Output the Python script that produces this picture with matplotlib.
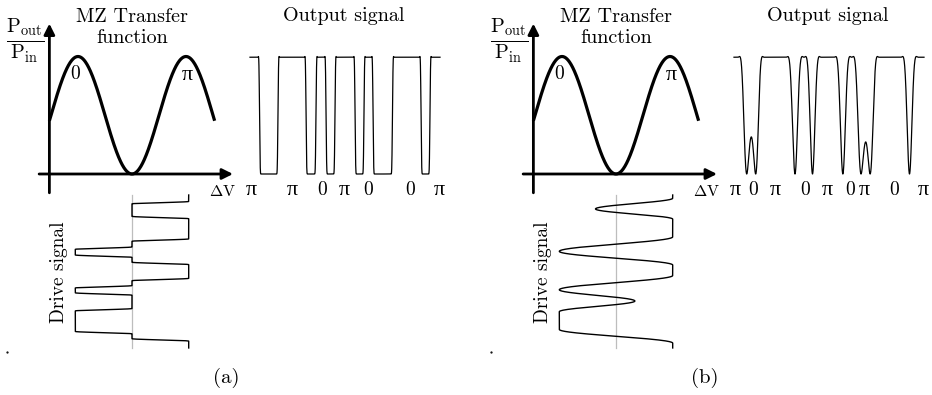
import numpy as np
import matplotlib.pyplot as plt

plt.rcParams['font.family'] = 'serif'
plt.rcParams['font.serif'] = ['cmr10']
plt.rcParams['mathtext.fontset'] = 'cm'
plt.rcParams['axes.formatter.use_mathtext'] = True

W, H = 932, 395  # output size in pixels

# drive voltage units: 0 -> "0" peak, 1 -> null, 2 -> "pi" peak
tf_v_start, tf_v_end = -0.53, 2.53
t_end = 190

# (a) three-level drive: level of each bit and the switching times
drive_a_levels = [2.05, 1.0, 2.05, 1.0, -0.05, 1.0, 2.05, 1.0, -0.05, 1.0, -0.05, 1.0, 2.05]
drive_a_edges = [9.5, 28, 56, 66, 76, 85, 105, 114, 123, 142.5, 171, 180]
out_a_labels = ['π', 'π', '0', 'π', '0', '0', 'π']
out_a_label_t = [1.7, 42, 72, 94, 118, 160, 189]

# (b) band-limited drive: turning points of the waveform
drive_b_t = [0, 4, 17.3, 30, 52, 70, 87, 100, 117.7, 131.7, 145, 167, 184, 190]
drive_b_v = [2.05, 2.05, 0.62, 2.05, 2.05, -0.05, 2.05, 2.05, -0.05, 1.35, -0.05, -0.05, 2.05, 2.05]
out_b_labels = ['π', '0', 'π', '0', 'π', '0', 'π', '0', 'π']
out_b_label_t = [1.7, 19, 41.7, 71, 93, 116, 130, 160, 189]


def transfer(v):
    return np.cos(np.pi * v / 2) ** 2


def step_drive(t, levels, edges, width=3.0):
    v = np.full_like(t, levels[0], dtype=float)
    for e, lo, hi in zip(edges, levels[:-1], levels[1:]):
        f = np.clip((t - e) / width + 0.5, 0, 1)
        v += (hi - lo) * (1 - np.cos(np.pi * f)) / 2
    return v


def knot_drive(t, kt, kv):
    kt, kv = np.asarray(kt, float), np.asarray(kv, float)
    i = np.clip(np.searchsorted(kt, t, side='right') - 1, 0, len(kt) - 2)
    f = (t - kt[i]) / (kt[i + 1] - kt[i])
    s = (1 - np.cos(np.pi * f)) / 2
    return kv[i] + (kv[i + 1] - kv[i]) * s


fig = plt.figure(figsize=(W / 100, H / 100), dpi=100)


def px_axes(xa, xb, ya, yb, xlim, ylim):
    # pixel column = xa + xb*x, pixel row = ya + yb*y
    cols = sorted([xa + xb * xlim[0], xa + xb * xlim[1]])
    rows = sorted([ya + yb * ylim[0], ya + yb * ylim[1]])
    ax = fig.add_axes([cols[0] / W, 1 - rows[1] / H,
                       (cols[1] - cols[0]) / W, (rows[1] - rows[0]) / H])
    ax.set_xlim(xlim)
    ax.set_ylim(ylim if yb < 0 else ylim[::-1])
    ax.set_axis_off()
    return ax


arrow = dict(arrowstyle='-|>', lw=2.0, color='k', mutation_scale=16,
             shrinkA=0, shrinkB=0)
pi_font = 'Liberation Serif'


def draw_panel(dx, t, v, labels, label_t, tag):
    # MZ transfer function
    tr = px_axes(78 + dx, 54, 174, -117.5, (-0.8, 3.0), (-0.3, 1.4))
    vv = np.linspace(tf_v_start, tf_v_end, 400)
    tr.plot(vv, transfer(vv), color='k', lw=2.3, solid_capstyle='butt', zorder=3)
    tr.annotate('', xy=(2.87, 0), xytext=(-0.72, 0), arrowprops=arrow)
    tr.annotate('', xy=(tf_v_start, 1.28), xytext=(tf_v_start, -0.16), arrowprops=arrow)
    tr.text(1.0, 1.294, 'MZ Transfer', ha='center', va='baseline', fontsize=14.5)
    tr.text(1.0, 1.115, 'function', ha='center', va='baseline', fontsize=14.5)
    tr.text(-0.05, 0.85, '0', ha='center', va='center', fontsize=14)
    tr.text(2.03, 0.84, 'π', ha='center', va='center', fontsize=16, family=pi_font)
    tr.text(2.67, -0.19, r'$\Delta\mathrm{V}$', ha='center', va='baseline', fontsize=11.5)
    tr.text(-0.98, 1.13, r'$\frac{\mathrm{P}_{\mathrm{out}}}{\mathrm{P}_{\mathrm{in}}}$',
            ha='center', va='center', fontsize=21)

    # output signal
    out = px_axes(250 + dx, 1, 174, -117.5, (-5, t_end + 5), (-0.3, 1.4))
    out.plot(t, transfer(v), color='k', lw=0.9)
    out.text(94, 1.30, 'Output signal', ha='center', va='baseline', fontsize=14.5)
    for lab, lt in zip(labels, label_t):
        if lab == 'π':
            out.text(lt, -0.18, lab, ha='center', va='baseline', fontsize=16, family=pi_font)
        else:
            out.text(lt, -0.18, lab, ha='center', va='baseline', fontsize=14)

    # drive signal, time running downwards
    drv = px_axes(78 + dx, 54, 195, 0.805, (-0.8, 3.0), (-5, t_end + 5))
    drv.plot([1, 1], [0, t_end], color='#bdbdbd', lw=0.9, zorder=0)
    drv.plot(v, t, color='k', lw=1.0)
    drv.text(-0.35, 95.6, 'Drive signal', rotation=90, ha='center', va='center', fontsize=14)
    drv.plot([-1.31], [195], 'k.', ms=1.2, clip_on=False)

    fig.text((226 + dx * 0.99) / W, 1 - 378 / H, tag, ha='center', va='center', fontsize=15)


t = np.linspace(0, t_end, 2000)
draw_panel(0, t, step_drive(t, drive_a_levels, drive_a_edges),
           out_a_labels, out_a_label_t, '(a)')
draw_panel(484, t, knot_drive(t, drive_b_t, drive_b_v),
           out_b_labels, out_b_label_t, '(b)')

fig.savefig('out.png', dpi=100)
